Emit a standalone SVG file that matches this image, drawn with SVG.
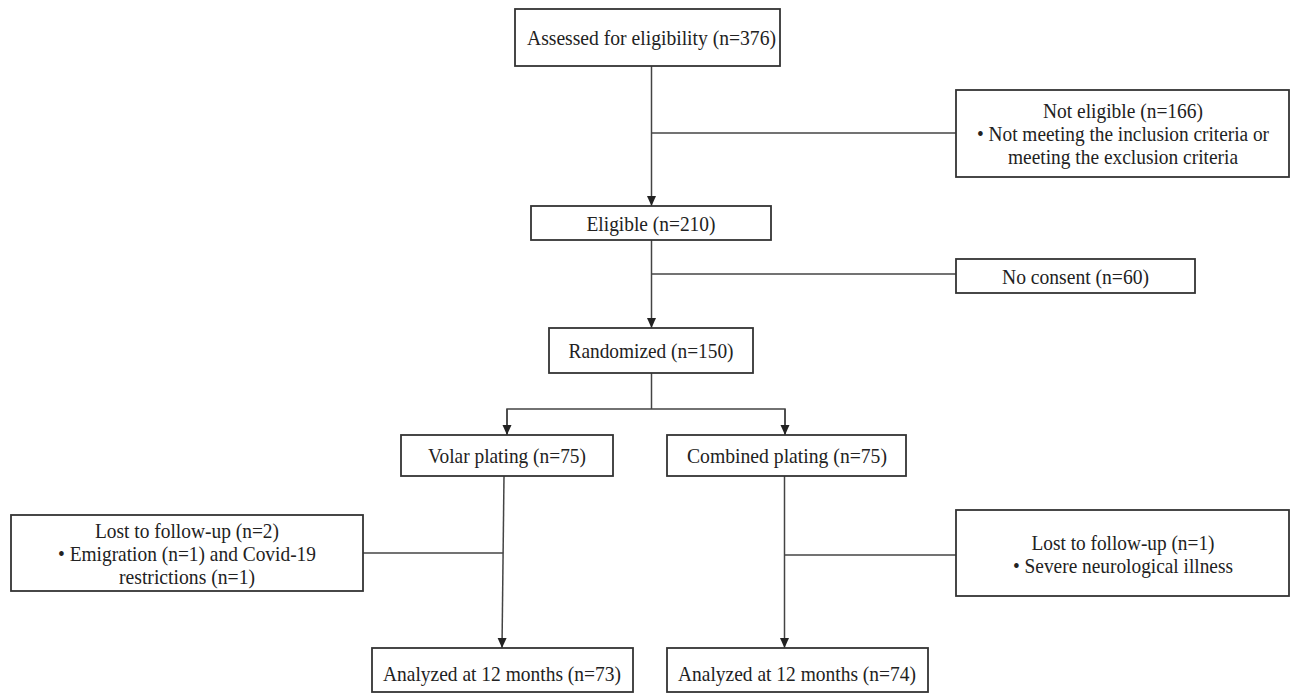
<svg xmlns="http://www.w3.org/2000/svg" width="1291" height="696" viewBox="0 0 1291 696">
<style>
.box{fill:#fff;stroke:#333;stroke-width:1.8}
.ln{fill:none;stroke:#444;stroke-width:1.5}
text{font-family:"Liberation Serif","Times New Roman",serif;font-size:21px;fill:#222;text-anchor:middle}
.sm{font-size:20px}
</style>
<defs>
<marker id="ah" markerUnits="userSpaceOnUse" markerWidth="10" markerHeight="10" refX="10" refY="4.5" orient="auto">
<path d="M0,0 L10,4.5 L0,9 z" fill="#222"/>
</marker>
</defs>
<rect width="1291" height="696" fill="#fff"/>
<g id="connectors">
<line class="ln" x1="651.5" y1="66" x2="651.5" y2="206" marker-end="url(#ah)"/>
<line class="ln" x1="651.5" y1="133" x2="956" y2="133"/>
<line class="ln" x1="651.5" y1="240" x2="651.5" y2="328" marker-end="url(#ah)"/>
<line class="ln" x1="651.5" y1="274" x2="956" y2="274"/>
<line class="ln" x1="651.5" y1="373" x2="651.5" y2="409"/>
<polyline class="ln" points="507,435 507,409 785,409 785,435"/>
<line class="ln" x1="507" y1="409" x2="507" y2="435" marker-end="url(#ah)"/>
<line class="ln" x1="785" y1="409" x2="785" y2="435" marker-end="url(#ah)"/>
<line class="ln" x1="504" y1="476" x2="502" y2="648" marker-end="url(#ah)"/>
<line class="ln" x1="363" y1="553" x2="503" y2="553"/>
<line class="ln" x1="784.5" y1="476" x2="784.5" y2="648" marker-end="url(#ah)"/>
<line class="ln" x1="784.5" y1="555" x2="956" y2="555"/>
</g>
<g id="assessed">
<rect class="box" x="515" y="9" width="265" height="57"/>
<text x="651.5" y="45" textLength="249" lengthAdjust="spacingAndGlyphs">Assessed for eligibility (n=376)</text>
</g>
<g id="not-eligible">
<rect class="box" x="956" y="90" width="333" height="87"/>
<text x="1123" y="118" textLength="160" lengthAdjust="spacingAndGlyphs">Not eligible (n=166)</text>
<text class="sm" x="1123" y="141" textLength="292" lengthAdjust="spacingAndGlyphs">• Not meeting the inclusion criteria or</text>
<text x="1123" y="164" textLength="230" lengthAdjust="spacingAndGlyphs">meeting the exclusion criteria</text>
</g>
<g id="eligible">
<rect class="box" x="531" y="206" width="240" height="34"/>
<text x="651" y="230.5" textLength="129" lengthAdjust="spacingAndGlyphs">Eligible (n=210)</text>
</g>
<g id="no-consent">
<rect class="box" x="956" y="259" width="239" height="34"/>
<text x="1075.5" y="283.5" textLength="147" lengthAdjust="spacingAndGlyphs">No consent (n=60)</text>
</g>
<g id="randomized">
<rect class="box" x="549" y="328" width="204" height="45"/>
<text x="651" y="357.5" textLength="165" lengthAdjust="spacingAndGlyphs">Randomized (n=150)</text>
</g>
<g id="volar">
<rect class="box" x="401" y="435" width="212" height="41"/>
<text x="507" y="462.5" textLength="158" lengthAdjust="spacingAndGlyphs">Volar plating (n=75)</text>
</g>
<g id="combined">
<rect class="box" x="667" y="435" width="239" height="41"/>
<text x="787" y="462.5" textLength="200" lengthAdjust="spacingAndGlyphs">Combined plating (n=75)</text>
</g>
<g id="lost-volar">
<rect class="box" x="11" y="515" width="352" height="76"/>
<text x="187" y="538" textLength="184" lengthAdjust="spacingAndGlyphs">Lost to follow-up (n=2)</text>
<text x="187" y="561" textLength="258" lengthAdjust="spacingAndGlyphs">• Emigration (n=1) and Covid-19</text>
<text x="187" y="583.5" textLength="136" lengthAdjust="spacingAndGlyphs">restrictions (n=1)</text>
</g>
<g id="lost-combined">
<rect class="box" x="956" y="510" width="333" height="86"/>
<text x="1123" y="550" textLength="183" lengthAdjust="spacingAndGlyphs">Lost to follow-up (n=1)</text>
<text x="1123" y="573" textLength="220" lengthAdjust="spacingAndGlyphs">• Severe neurological illness</text>
</g>
<g id="analyzed-volar">
<rect class="box" x="372" y="648" width="261" height="44"/>
<text x="502" y="680.5" textLength="238" lengthAdjust="spacingAndGlyphs">Analyzed at 12 months (n=73)</text>
</g>
<g id="analyzed-combined">
<rect class="box" x="667" y="648" width="261" height="44"/>
<text x="797" y="680.5" textLength="238" lengthAdjust="spacingAndGlyphs">Analyzed at 12 months (n=74)</text>
</g>
</svg>
